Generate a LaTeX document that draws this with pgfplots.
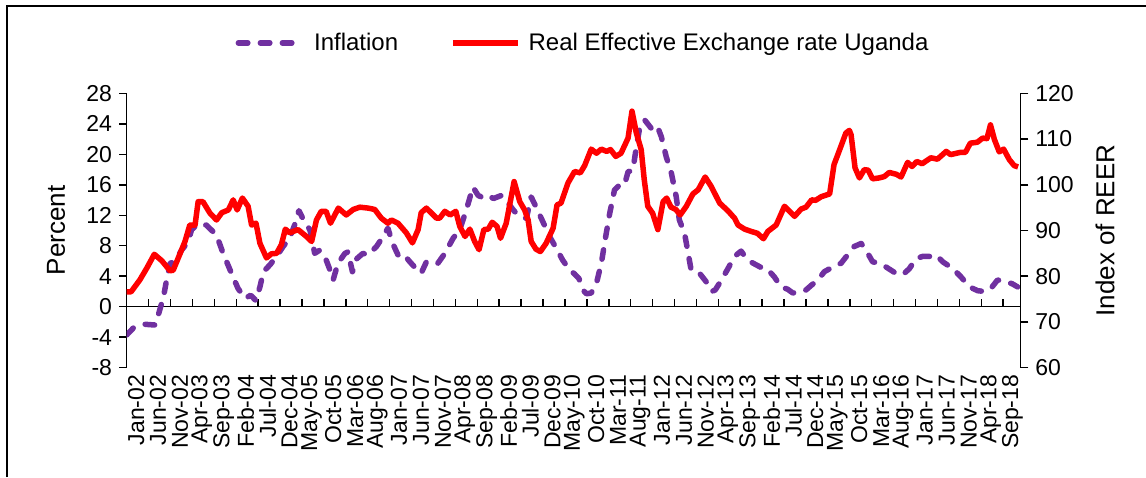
\documentclass[border=0pt]{standalone}
\usepackage{fontspec}
\setmainfont{Liberation Sans}
\usepackage{pgfplots}
\pgfplotsset{compat=1.18}
\definecolor{infl}{RGB}{112,48,160}
\definecolor{reer}{RGB}{255,0,0}

\pgfplotsset{
  base/.style={
    scale only axis, width=447pt, height=137.2pt,
    at={(0,0)}, anchor=south west,
    xmin=0, xmax=204,
    /pgf/number format/assume math mode=true,
    tick label style={font=\fontsize{11.5}{12}\selectfont},
    axis line style={line width=0.75pt},
    major tick length=3.8pt,
    every tick/.style={black, line width=0.75pt},
  }
}

\begin{document}
\begin{tikzpicture}
\useasboundingbox (-63.35pt,-54.65pt) rectangle (509.65pt,183.85pt);
\draw[line width=1pt] (-59.85pt,-54.65pt) -- (-59.85pt,180.85pt) -- (509.65pt,180.85pt);

% left axis: inflation
\begin{axis}[base,
  axis y line*=left, axis x line*=bottom,
  x axis line style={draw=none},
  ymin=-8, ymax=28, ytick={-8,-4,...,28},
  ytick align=outside,
  xtick={0,5,...,200},
  x tick style={draw=none},
  xticklabels={Jan-02,Jun-02,Nov-02,Apr-03,Sep-03,Feb-04,Jul-04,Dec-04,May-05,Oct-05,Mar-06,Aug-06,Jan-07,Jun-07,Nov-07,Apr-08,Sep-08,Feb-09,Jul-09,Dec-09,May-10,Oct-10,Mar-11,Aug-11,Jan-12,Jun-12,Nov-12,Apr-13,Sep-13,Feb-14,Jul-14,Dec-14,May-15,Oct-15,Mar-16,Aug-16,Jan-17,Jun-17,Nov-17,Apr-18,Sep-18},
  xticklabel style={rotate=90, anchor=east, yshift=-4.7pt},
  ylabel={Percent},
  every axis y label/.style={at={(axis description cs:-0.079,0.5)}, rotate=90, anchor=center, font=\fontsize{13}{15}\selectfont},
]
\draw[line width=0.75pt] (axis cs:0,0) -- (axis cs:204,0);
\pgfplotsinvokeforeach{0,5,...,200}{\draw[line width=0.75pt] (axis cs:#1,0) -- ++(0pt,3.8pt);}
\addplot[infl, line width=2.75pt, dash pattern=on 4.75pt off 6.25pt, line cap=round, line join=round] table {
0 -3.7
1.5 -2.8
4 -2.3
6.5 -2.4
7.2 -1.1
8.4 1.3
9.1 3.5
9.9 5.7
11 5.9
12.5 7.4
14 8.5
14.8 10.1
16.3 10.9
18.2 10.7
20.5 9.4
22 7.0
23.9 4.4
25.4 2.4
27 1.1
28.3 1.5
29.5 0.8
30.4 2.6
31.2 4.6
32.7 5.5
34.2 6.6
35.7 7.9
37.2 9.0
38.3 10.7
39.3 12.6
40.6 11.1
41.8 10.1
42.9 7.0
44 7.4
45.2 6.6
46.4 4.8
47.1 3.5
48.2 5.7
49.8 7.0
50.5 7.2
51.5 4.6
52.5 6.3
53.9 7.0
55.1 6.8
57 7.9
58.5 9.2
59.6 10.3
60.7 8.3
61.9 6.8
63 7.0
64.6 5.9
65.7 5.2
67.2 4.4
68.4 5.9
70 5.7
71 5.7
72.6 7.0
74.5 9.0
76 10.1
77.5 12.7
79 15.7
80.2 14.6
81.3 14.3
82.4 14.6
83.7 14.2
85.5 14.6
87 13.6
88.5 12.5
90 11.8
91.2 11.6
92.3 14.4
93.4 13.1
95 11.1
96.5 9.2
98 7.7
99.5 6.1
101.1 4.8
102.2 4.3
103.2 3.7
104.1 2.2
104.9 1.7
106 1.8
107.2 3.1
108.3 5.7
109.3 9.2
110.2 12.2
111.3 15.3
112.5 16.0
113.6 16.0
114.4 17.7
115.5 17.9
116.3 21.0
117.1 23.6
118.2 24.5
119.7 23.4
121 23.8
122 22.3
123.1 19.7
124.3 17.5
125.4 14.4
126.1 11.4
127.3 9.6
128 7.4
128.8 4.8
130.7 4.4
132.2 3.3
133.5 2.0
134.3 2.2
135.5 3.3
137.2 5.0
138.7 6.6
140.2 7.3
141.7 6.1
143.3 5.6
144.6 5.2
146.1 5.0
147.8 3.9
149.3 2.6
150.8 2.3
152 1.8
153.5 2.0
155 2.2
156.2 2.8
157.7 3.5
159.2 4.6
161.1 5.2
163 5.7
164.5 6.8
166 7.9
167.6 8.3
168.7 7.4
170.2 5.9
171.7 5.7
173.3 5.2
175.2 4.5
177.1 4.2
178.6 5.0
180.1 6.3
181.6 6.6
183.2 6.6
184.7 6.8
186.2 5.9
188.5 5.0
190.4 3.9
192.3 2.6
194.2 2.1
195.7 2.0
197.2 2.4
198.7 3.5
200.6 3.3
202.1 3.0
203.3 2.6
};
\end{axis}

% right axis: REER
\begin{axis}[base,
  axis y line*=right, axis x line=none,
  xtick=\empty,
  ymin=60, ymax=120, ytick={60,70,...,120},
  ytick align=outside,
  ylabel={Index of REER},
  every axis y label/.style={at={(axis description cs:1.0943,0.5)}, rotate=90, anchor=center, font=\fontsize{13}{15}\selectfont},
  legend style={at={(0.5138,1.184)}, anchor=center, draw=none, fill=none,
    legend columns=2, font=\fontsize{12}{14}\selectfont,
    nodes={inner xsep=4pt},
    /tikz/every even column/.append style={column sep=22pt}},
  legend image code/.code={\draw[#1] (0pt,0pt) -- (32.5pt,0pt);},
]
\addlegendimage{infl, line width=2.75pt, dash pattern=on 4.75pt off 6.25pt, line cap=round}
\addlegendentry{Inflation}
\addplot[reer, line width=2.75pt, line join=round] table {
0 76.6
1 76.6
3 79.2
4.6 81.8
6.3 84.8
8 83.4
9.9 81.2
10.6 81.3
12.2 85.0
13.3 87.6
14.4 91.2
15.6 91.2
16.3 96.3
17.4 96.3
19 93.8
20.5 92.3
21.7 93.9
23.2 94.5
24.3 96.7
25.2 94.5
26.4 97.1
27.7 95.3
28.5 91.2
29.5 91.6
30.4 87.2
31.9 84.0
33 84.9
34.2 85.0
35.3 86.9
36.2 90.3
37.2 89.5
39.1 90.2
41 88.7
42.2 87.6
43.3 92.3
44.4 94.2
45.5 94.2
46.5 91.6
48.3 94.9
50.1 93.4
51.7 94.6
53.2 95.1
55.1 94.9
56.6 94.6
58.1 92.7
59.6 91.6
60.4 92.3
61.9 91.6
63.8 89.5
65.2 87.3
66.5 90.2
67.2 93.9
68.4 94.9
70.7 92.7
71.4 92.7
72.6 94.2
73.8 93.4
75.1 94.2
76 90.9
77.2 88.7
78.3 90.3
79.4 87.6
80.4 85.8
81.5 90.2
82.5 90.3
83.4 91.8
84.5 90.9
85.3 88.3
86.6 91.6
88.4 100.7
89.7 96.3
90.8 94.5
91.6 92.3
92.3 87.6
93.4 85.9
94.4 85.4
95.7 87.2
97.3 90.5
98.2 95.6
99.1 96.0
100.7 100.4
102.2 102.9
103.5 102.6
104.5 104.2
106 107.8
107.2 106.9
108.3 107.8
109.5 107.3
110.4 107.7
111.6 106.2
112.8 106.9
114.4 110.2
115.3 116.1
116.3 111.3
117.4 107.7
118.1 101.1
118.9 95.3
120 93.8
121.2 90.2
122.4 96.3
123.2 97.1
124.2 95.1
125.3 94.6
126.3 93.4
127.7 95.3
129.2 98.0
130.4 98.9
132 101.7
133.4 99.6
135.3 96.0
137.2 94.3
138.7 92.7
139.5 91.2
141 90.3
142.5 89.8
143.9 89.4
145.3 88.2
146.3 89.8
148.2 91.2
150.1 95.3
152.4 93.1
153.9 94.7
155 95.1
156.3 96.7
157.2 96.6
158.5 97.4
160.4 98.0
161.4 104.4
162.7 107.7
164.1 111.3
164.9 111.9
165.3 110.9
166.2 103.7
167.2 101.5
168.3 103.3
169.2 103.2
170.2 101.3
171.7 101.5
172.9 101.8
174 102.7
175.6 102.3
176.7 101.7
178.2 104.9
179.2 104.0
180.3 105.1
181.5 104.6
183.5 105.9
185 105.6
187 107.3
188 106.6
190.3 107.1
191.4 107.1
192.5 109.1
194.1 109.3
195.3 110.2
196.3 110.1
197.1 113.1
198 109.9
199.1 107.2
200.1 107.8
201.4 105.5
202.5 104.2
203.4 103.9
};
\addlegendentry{Real Effective Exchange rate Uganda}
\end{axis}
\end{tikzpicture}
\end{document}
